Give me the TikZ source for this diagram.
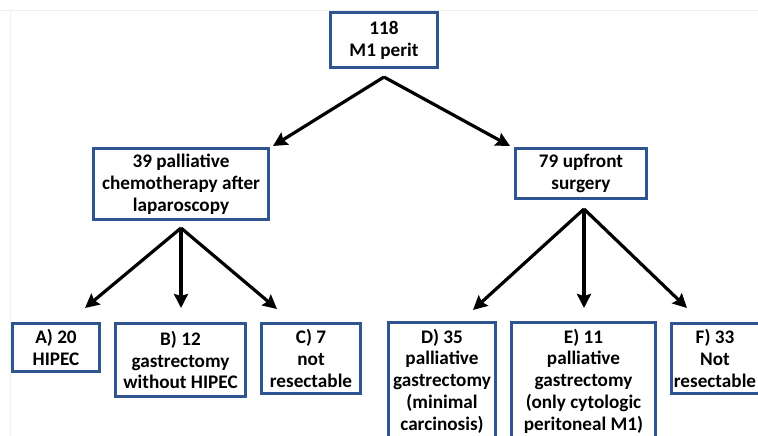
\documentclass[tikz,border=0pt]{standalone}
\usepackage{fontspec}
\setmainfont{Carlito}
\usetikzlibrary{arrows.meta,calc}
\definecolor{boxblue}{RGB}{46,84,146}
\begin{document}
\begin{tikzpicture}[x=1pt,y=-1pt,
  box/.style={draw=boxblue,line width=3pt,fill=white,inner sep=0pt,align=center,
    font=\fontsize{19.2}{21.8}\selectfont\bfseries,text=black},
  arr/.style={line width=3.2pt,-{Stealth[length=14pt,width=14pt,inset=2pt]},line join=miter}]
\useasboundingbox (0,0) rectangle (758,436);
\clip (0,0) rectangle (758,436);
\fill[white] (0,0) rectangle (758,436);
\draw[gray!12,line width=0.8pt] (0,10.5) -- (758,10.5);
\draw[gray!12,line width=0.8pt] (10.5,10.5) -- (10.5,436);

\node[box,minimum width=107pt,minimum height=55pt] (top) at (384,40) {118\\M1 perit};
\node[box,minimum width=175pt,minimum height=71pt] (L) at (181,184) {39 palliative\\chemotherapy after\\laparoscopy};
\node[box,minimum width=131pt,minimum height=50pt] (R) at (581,173.5) {79 upfront\\surgery};

\node[box,minimum width=87pt,minimum height=48pt] (A) at (56,347.5) {A) 20\\HIPEC};
\node[box,minimum width=130pt,minimum height=73pt] (B) at (180.5,360) {B) 12\\gastrectomy\\without HIPEC};
\node[box,minimum width=99pt,minimum height=70pt] (C) at (311,358.5) {C) 7\\not\\resectable};
\node[box,minimum width=107pt,minimum height=117pt] (D) at (442,381) {D) 35\\palliative\\gastrectomy\\(minimal\\carcinosis)};
\node[box,minimum width=144pt,minimum height=117pt] (E) at (583.5,381) {E) 11\\palliative\\gastrectomy\\(only cytologic\\peritoneal M1)};
\node[box,minimum width=88pt,minimum height=70pt] (F) at (715,358.5) {F) 33\\Not\\resectable};

\coordinate (t0) at ($(top.south)+(0,8)$);
\coordinate (l0) at ($(L.south)+(0,7)$);
\coordinate (r0) at ($(R.south)+(3,9)$);
\coordinate (tL) at (273,146);
\coordinate (tR) at (510,146);
\coordinate (tA) at (85,308);
\coordinate (tB) at (181,308);
\coordinate (tC) at (277,309);
\coordinate (tD) at (473,310);
\coordinate (tE) at (584,308);
\coordinate (tF) at (687,308);

\draw[arr] (t0) -- (tL);
\draw[arr] (t0) -- (tR);
\draw[arr] (l0) -- (tA);
\draw[arr] (l0) -- (tB);
\draw[arr] (l0) -- (tC);
\draw[arr] (r0) -- (tD);
\draw[arr] (r0) -- (tE);
\draw[arr] (r0) -- (tF);
\end{tikzpicture}
\end{document}
